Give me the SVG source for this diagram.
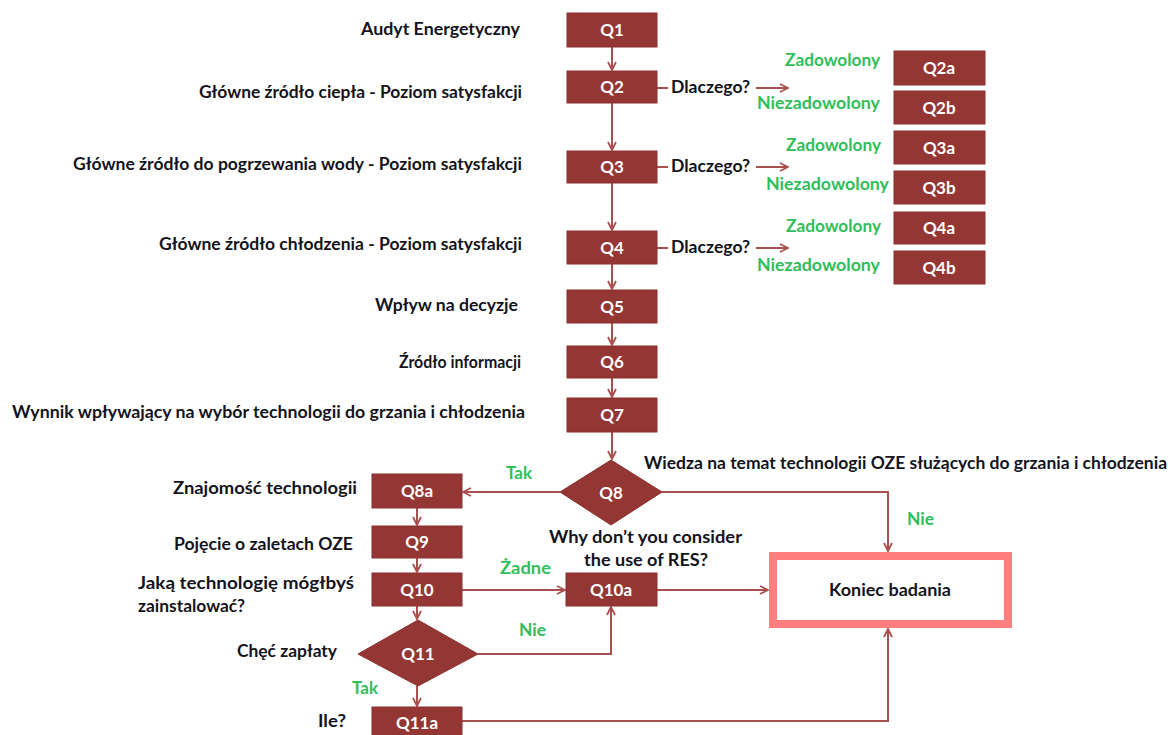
<svg xmlns="http://www.w3.org/2000/svg" width="1171" height="735" viewBox="0 0 1171 735">
<defs>
<marker id="ah" viewBox="0 0 10 10" refX="9" refY="5" markerWidth="10" markerHeight="10" markerUnits="userSpaceOnUse" orient="auto">
<path d="M1,1 L9,5 L1,9" fill="none" stroke="#A9504E" stroke-width="1.8"/>
</marker>
<style>
.box{fill:#943634;stroke:#8a302e;stroke-width:1}
.q{font-family:Lato,"Liberation Sans",sans-serif;font-weight:bold;font-size:17px;fill:#fff;text-anchor:middle}
.lbl{font-family:Lato,"Liberation Sans",sans-serif;font-weight:bold;font-size:16.5px;fill:#141420}
.g{font-family:Lato,"Liberation Sans",sans-serif;font-weight:bold;font-size:16.5px;fill:#2FBE5A}
.c{fill:none;stroke:#A9504E;stroke-width:2}
</style>
</defs>
<rect width="1171" height="735" fill="#fff"/>

<g id="connectors">
<line class="c" x1="612" y1="47" x2="612" y2="70" marker-end="url(#ah)"/>
<line class="c" x1="612" y1="103" x2="612" y2="150" marker-end="url(#ah)"/>
<line class="c" x1="612" y1="183" x2="612" y2="230" marker-end="url(#ah)"/>
<line class="c" x1="612" y1="264" x2="612" y2="289" marker-end="url(#ah)"/>
<line class="c" x1="612" y1="323" x2="612" y2="345" marker-end="url(#ah)"/>
<line class="c" x1="612" y1="378" x2="612" y2="397" marker-end="url(#ah)"/>
<line class="c" x1="612" y1="432" x2="612" y2="459" marker-end="url(#ah)"/>
<line class="c" x1="657" y1="88" x2="668" y2="88"/>
<line class="c" x1="756" y1="88" x2="788" y2="88" marker-end="url(#ah)"/>
<line class="c" x1="657" y1="167" x2="668" y2="167"/>
<line class="c" x1="756" y1="167" x2="788" y2="167" marker-end="url(#ah)"/>
<line class="c" x1="657" y1="248" x2="668" y2="248"/>
<line class="c" x1="756" y1="248" x2="788" y2="248" marker-end="url(#ah)"/>
<line class="c" x1="560" y1="492" x2="463" y2="492" marker-end="url(#ah)"/>
<polyline class="c" points="662,492 888,492 888,551" marker-end="url(#ah)"/>
<line class="c" x1="417" y1="508" x2="417" y2="525" marker-end="url(#ah)"/>
<line class="c" x1="417" y1="558" x2="417" y2="572" marker-end="url(#ah)"/>
<line class="c" x1="462" y1="590" x2="565" y2="590" marker-end="url(#ah)"/>
<line class="c" x1="657" y1="590" x2="768" y2="590" marker-end="url(#ah)"/>
<line class="c" x1="417" y1="606" x2="417" y2="619" marker-end="url(#ah)"/>
<polyline class="c" points="478,654 611,654 611,607" marker-end="url(#ah)"/>
<line class="c" x1="417" y1="686" x2="417" y2="706" marker-end="url(#ah)"/>
<polyline class="c" points="462,721 888,721 888,629" marker-end="url(#ah)"/>
</g>

<g id="Q1"><rect class="box" x="567" y="13" width="90" height="34"/><text class="q" x="612" y="36">Q1</text></g>
<g id="Q2"><rect class="box" x="567" y="71" width="90" height="32"/><text class="q" x="612" y="93">Q2</text></g>
<g id="Q3"><rect class="box" x="567" y="151" width="90" height="32"/><text class="q" x="612" y="173">Q3</text></g>
<g id="Q4"><rect class="box" x="567" y="231" width="90" height="33"/><text class="q" x="612" y="254">Q4</text></g>
<g id="Q5"><rect class="box" x="567" y="290" width="90" height="33"/><text class="q" x="612" y="313">Q5</text></g>
<g id="Q6"><rect class="box" x="567" y="346" width="90" height="32"/><text class="q" x="612" y="368">Q6</text></g>
<g id="Q7"><rect class="box" x="567" y="398" width="90" height="34"/><text class="q" x="612" y="421">Q7</text></g>

<g id="Q2a"><rect class="box" x="894" y="51" width="91" height="34"/><text class="q" x="939" y="74">Q2a</text></g>
<g id="Q2b"><rect class="box" x="894" y="91" width="91" height="33"/><text class="q" x="939" y="114">Q2b</text></g>
<g id="Q3a"><rect class="box" x="894" y="131" width="91" height="33"/><text class="q" x="939" y="154">Q3a</text></g>
<g id="Q3b"><rect class="box" x="894" y="171" width="91" height="33"/><text class="q" x="939" y="194">Q3b</text></g>
<g id="Q4a"><rect class="box" x="894" y="212" width="91" height="32"/><text class="q" x="939" y="234">Q4a</text></g>
<g id="Q4b"><rect class="box" x="894" y="251" width="91" height="33"/><text class="q" x="939" y="274">Q4b</text></g>

<g id="Q8"><polygon class="box" points="611,460 662,492 611,525 560,492"/><text class="q" x="611" y="499">Q8</text></g>
<g id="Q8a"><rect class="box" x="372" y="474" width="90" height="34"/><text class="q" x="417" y="497">Q8a</text></g>
<g id="Q9"><rect class="box" x="372" y="526" width="90" height="32"/><text class="q" x="417" y="548">Q9</text></g>
<g id="Q10"><rect class="box" x="372" y="573" width="90" height="33"/><text class="q" x="417" y="596">Q10</text></g>
<g id="Q10a"><rect class="box" x="566" y="573" width="91" height="33"/><text class="q" x="611" y="596">Q10a</text></g>
<g id="Q11"><polygon class="box" points="418,620 478,654 418,686 358,654"/><text class="q" x="418" y="660">Q11</text></g>
<g id="Q11a"><rect class="box" x="372" y="707" width="90" height="34"/><text class="q" x="417" y="729">Q11a</text></g>
<g id="koniec"><rect x="773" y="556" width="235" height="68" fill="#fff" stroke="#FF7F7F" stroke-width="8"/><text class="lbl" x="829" y="596" textLength="122" lengthAdjust="spacingAndGlyphs">Koniec badania</text></g>

<g id="labels">
<text class="lbl" x="361" y="35" textLength="159" lengthAdjust="spacingAndGlyphs">Audyt Energetyczny</text>
<text class="lbl" x="199" y="98" textLength="323" lengthAdjust="spacingAndGlyphs">Główne źródło ciepła - Poziom satysfakcji</text>
<text class="lbl" x="73" y="170" textLength="449" lengthAdjust="spacingAndGlyphs">Główne źródło do pogrzewania wody - Poziom satysfakcji</text>
<text class="lbl" x="159" y="250" textLength="363" lengthAdjust="spacingAndGlyphs">Główne źródło chłodzenia - Poziom satysfakcji</text>
<text class="lbl" x="375" y="311" textLength="143" lengthAdjust="spacingAndGlyphs">Wpływ na decyzje</text>
<text class="lbl" x="399" y="368" textLength="122" lengthAdjust="spacingAndGlyphs">Źródło informacji</text>
<text class="lbl" x="12" y="418" textLength="513" lengthAdjust="spacingAndGlyphs">Wynnik wpływający na wybór technologii do grzania i chłodzenia</text>
<text class="lbl" x="173" y="494" textLength="184" lengthAdjust="spacingAndGlyphs">Znajomość technologii</text>
<text class="lbl" x="174" y="550" textLength="179" lengthAdjust="spacingAndGlyphs">Pojęcie o zaletach OZE</text>
<text class="lbl" x="138" y="589" textLength="216" lengthAdjust="spacingAndGlyphs">Jaką technologię mógłbyś</text>
<text class="lbl" x="138" y="612" textLength="107" lengthAdjust="spacingAndGlyphs">zainstalować?</text>
<text class="lbl" x="237" y="657" textLength="100" lengthAdjust="spacingAndGlyphs">Chęć zapłaty</text>
<text class="lbl" x="318" y="727" textLength="28" lengthAdjust="spacingAndGlyphs">Ile?</text>
<text class="lbl" x="644" y="469" textLength="523" lengthAdjust="spacingAndGlyphs">Wiedza na temat technologii OZE służących do grzania i chłodzenia</text>
<text class="lbl" x="549" y="543" textLength="193" lengthAdjust="spacingAndGlyphs">Why don’t you consider</text>
<text class="lbl" x="584" y="566" textLength="124" lengthAdjust="spacingAndGlyphs">the use of RES?</text>
<text class="lbl" x="671" y="93" textLength="79" lengthAdjust="spacingAndGlyphs">Dlaczego?</text>
<text class="lbl" x="671" y="172" textLength="79" lengthAdjust="spacingAndGlyphs">Dlaczego?</text>
<text class="lbl" x="671" y="253" textLength="79" lengthAdjust="spacingAndGlyphs">Dlaczego?</text>
<text class="g" x="785" y="66" textLength="95" lengthAdjust="spacingAndGlyphs">Zadowolony</text>
<text class="g" x="757" y="109" textLength="123" lengthAdjust="spacingAndGlyphs">Niezadowolony</text>
<text class="g" x="786" y="151" textLength="95" lengthAdjust="spacingAndGlyphs">Zadowolony</text>
<text class="g" x="766" y="190" textLength="123" lengthAdjust="spacingAndGlyphs">Niezadowolony</text>
<text class="g" x="786" y="232" textLength="95" lengthAdjust="spacingAndGlyphs">Zadowolony</text>
<text class="g" x="757" y="271" textLength="123" lengthAdjust="spacingAndGlyphs">Niezadowolony</text>
<text class="g" x="506" y="479" textLength="26" lengthAdjust="spacingAndGlyphs">Tak</text>
<text class="g" x="907" y="525" textLength="27" lengthAdjust="spacingAndGlyphs">Nie</text>
<text class="g" x="500" y="574" textLength="51" lengthAdjust="spacingAndGlyphs">Żadne</text>
<text class="g" x="519" y="636" textLength="27" lengthAdjust="spacingAndGlyphs">Nie</text>
<text class="g" x="352" y="694" textLength="26" lengthAdjust="spacingAndGlyphs">Tak</text>
</g>
</svg>
